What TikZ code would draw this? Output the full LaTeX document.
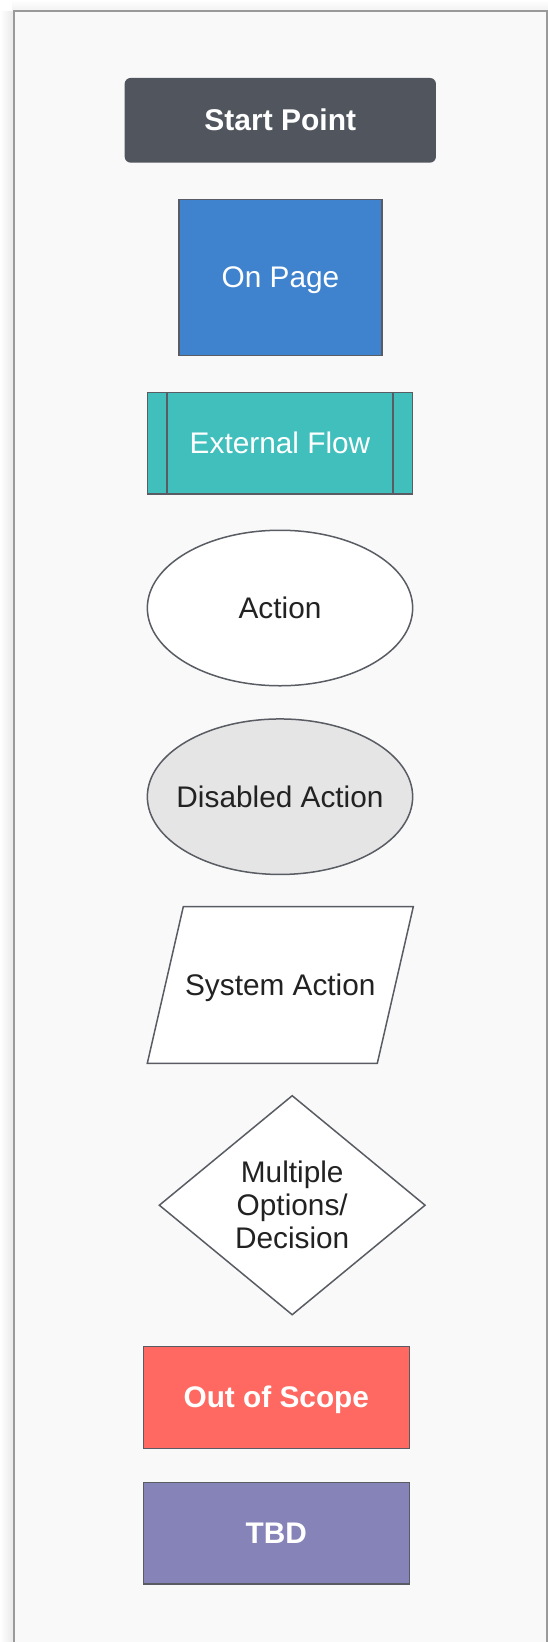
\documentclass[tikz,border=0pt]{standalone}
\usepackage{fontspec}
\setmainfont{Liberation Sans}
\usetikzlibrary{shapes.geometric}
\definecolor{bordc}{HTML}{595C63}
\definecolor{framec}{HTML}{9A9A9A}
\definecolor{bgc}{HTML}{F9F9F9}
\definecolor{startc}{HTML}{50555E}
\definecolor{pagec}{HTML}{3F83CF}
\definecolor{extc}{HTML}{40BFBC}
\definecolor{disc}{HTML}{E5E5E5}
\definecolor{oosc}{HTML}{FF6961}
\definecolor{tbdc}{HTML}{8683B8}
\definecolor{txtc}{HTML}{222222}
\tikzset{
  shapebase/.style={draw=bordc, line width=1.5pt, inner sep=0pt, outer sep=0pt,
    font=\fontsize{29.8}{33}\selectfont, text=txtc, align=center},
  oneline/.style={text height=27pt, text depth=6.3pt},
  labeltext/.style={inner sep=0pt, font=\fontsize{29.8}{33}\selectfont, text=txtc, oneline},
  startbox/.style={shapebase, oneline, rectangle, draw=none, fill=startc, rounded corners=6pt,
    text=white, font=\fontsize{30}{33}\selectfont\bfseries, minimum width=311.3pt, minimum height=84.7pt},
  ovalshape/.style={draw=bordc, line width=1.5pt, inner sep=0pt, outer sep=0pt, ellipse,
    minimum width=265.3pt, minimum height=155.5pt},
  decshape/.style={shapebase, diamond, aspect=1.2, minimum width=265.7pt, minimum height=219pt, fill=white},
  rectshape/.style={shapebase, oneline, rectangle},
}
\begin{document}
\begin{tikzpicture}[x=1pt,y=-1pt]
\useasboundingbox (0,0) rectangle (548,1642);
\clip (0,0) rectangle (548,1642);
\fill[white] (0,0) rectangle (548,1642);
\shade[left color=white, right color=black!8] (0,11) rectangle (12.5,1642);
\shade[top color=white, bottom color=black!5] (12.5,0) rectangle (548,10);
\draw[framec, line width=2pt, fill=bgc] (13.5,11) rectangle (547,1660);

\node[startbox] (start) at (280.3,120.3) {Start Point};
\node[rectshape, fill=pagec, text=white, minimum width=203pt, minimum height=156pt] (page) at (280.5,277.3) {On Page};
\node[rectshape, fill=extc, text=white, minimum width=265.3pt, minimum height=101.3pt] (ext) at (280,443.3) {External Flow};
\draw[bordc, line width=1.5pt] ([xshift=19.7pt]ext.north west) -- ([xshift=19.7pt]ext.south west);
\draw[bordc, line width=1.5pt] ([xshift=-19.7pt]ext.north east) -- ([xshift=-19.7pt]ext.south east);
\node[ovalshape, fill=white] (action) at (280,608) {};
\node[labeltext] (actiontext) at (action.center) {Action};
\node[ovalshape, fill=disc] (disabled) at (280,796.7) {};
\node[labeltext] (disabledtext) at (disabled.center) {Disabled Action};
\draw[bordc, line width=1.5pt, fill=white, line join=miter]
  (183.3,906.7) -- (413.3,906.7) -- (377.3,1063.3) -- (147.3,1063.3) -- cycle;
\node[labeltext] (system) at (280.3,985) {System Action};
\node[decshape] (decision) at (292.2,1205.2) {Multiple\\Options/\\Decision};
\node[rectshape, fill=oosc, text=white, font=\fontsize{29.8}{33}\selectfont\bfseries, minimum width=266pt, minimum height=101.6pt] (oos) at (276.3,1397.5) {Out of Scope};
\node[rectshape, fill=tbdc, text=white, font=\fontsize{29.8}{33}\selectfont\bfseries, minimum width=266pt, minimum height=101.7pt] (tbd) at (276.3,1533.2) {TBD};
\end{tikzpicture}
\end{document}
